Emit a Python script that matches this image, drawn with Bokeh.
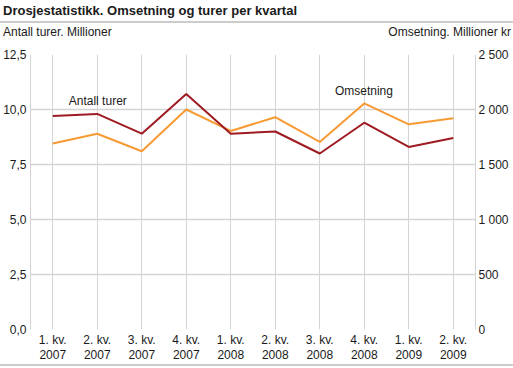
from bokeh.plotting import figure
from bokeh.models import (Range1d, LinearAxis, FixedTicker, CustomJSTickFormatter,
                          Label, Div)
from bokeh.layouts import column
from bokeh.embed import file_html
from bokeh.resources import INLINE

# ---- data ----
quarters = ["1. kv.\n2007", "2. kv.\n2007", "3. kv.\n2007", "4. kv.\n2007",
            "1. kv.\n2008", "2. kv.\n2008", "3. kv.\n2008", "4. kv.\n2008",
            "1. kv.\n2009", "2. kv.\n2009"]
antall_turer = [9.7, 9.8, 8.9, 10.7, 8.9, 9.0, 8.0, 9.4, 8.3, 8.7]          # millioner
omsetning = [1690, 1780, 1620, 2000, 1805, 1930, 1705, 2055, 1865, 1920]   # mill. kr
left_ticks = [0, 2.5, 5, 7.5, 10, 12.5]
right_ticks = [0, 500, 1000, 1500, 2000, 2500]

title_text = "Drosjestatistikk. Omsetning og turer per kvartal"
left_title = "Antall turer. Millioner"
right_title = "Omsetning. Millioner kr"

FONT = "Liberation Sans"
TXT = "#1a1a1a"
GRID = "#d4d4d4"
RED = "#9e1b22"
ORANGE = "#f89a33"
SEP = "#cccccc"

W = 513
HEAD_H, FIG_H, FOOT_H = 46, 318, 2
FL, FR = 30, 475            # frame left/right (page px)
FT, FB = 54, 331            # frame top/bottom (page px)
xs = list(range(len(quarters)))

header = Div(width=W, height=HEAD_H, margin=(0, 0, 0, 0), text=f"""
<div style="position:relative;width:{W}px;height:{HEAD_H}px;font-family:'{FONT}';color:{TXT};">
  <div style="position:absolute;left:3px;top:3px;font-size:13px;font-weight:bold;line-height:16px;white-space:nowrap;">{title_text}</div>
  <div style="position:absolute;left:0;top:21px;width:{W}px;height:2px;background:{SEP};"></div>
  <div style="position:absolute;left:3px;top:25px;font-size:12px;line-height:15px;white-space:nowrap;">{left_title}</div>
  <div style="position:absolute;right:2px;top:25px;font-size:12px;line-height:15px;white-space:nowrap;">{right_title}</div>
</div>""")

footer = Div(width=W, height=FOOT_H, margin=(0, 0, 0, 0), text="",
             styles={"background-color": SEP, "overflow": "hidden"})

p = figure(width=W, height=FIG_H, output_backend="svg", toolbar_location=None,
           x_range=Range1d(-0.5, len(quarters) - 0.5),
           y_range=Range1d(left_ticks[0], left_ticks[-1]),
           min_border_left=FL, min_border_right=W - FR,
           min_border_top=FT - HEAD_H, min_border_bottom=HEAD_H + FIG_H - FB,
           margin=(0, 0, 0, 0))
p.outline_line_color = None
p.background_fill_color = "white"
p.border_fill_color = "white"

p.extra_y_ranges = {"oms": Range1d(right_ticks[0], right_ticks[-1])}

# x axis
xa = p.xaxis[0]
xa.ticker = FixedTicker(ticks=xs)
xa.formatter = CustomJSTickFormatter(args=dict(labels=quarters),
                                     code="return labels[Math.round(tick)];")
xa.axis_line_color = None
xa.major_tick_line_color = None
xa.minor_tick_line_color = None
xa.major_tick_out = 0
xa.major_tick_in = 0
xa.major_label_standoff = 3
xa.major_label_text_font = FONT
xa.major_label_text_font_size = "12px"
xa.major_label_text_line_height = 1.1
xa.major_label_text_color = TXT

# left axis
ya = p.yaxis[0]
ya.ticker = FixedTicker(ticks=left_ticks)
ya.formatter = CustomJSTickFormatter(code="return tick.toFixed(1).replace('.', ',');")
ya.axis_line_color = GRID
ya.axis_line_width = 1
ya.major_tick_line_color = None
ya.minor_tick_line_color = None
ya.major_tick_out = 0
ya.major_tick_in = 0
ya.major_label_standoff = 4
ya.major_label_text_font = FONT
ya.major_label_text_font_size = "12px"
ya.major_label_text_color = TXT

# right axis
ra = LinearAxis(y_range_name="oms", ticker=FixedTicker(ticks=right_ticks))
ra.formatter = CustomJSTickFormatter(code="""
const t = Math.round(tick);
if (t >= 1000) { return Math.floor(t/1000) + ' ' + String(t % 1000).padStart(3, '0'); }
return String(t);
""")
ra.axis_line_color = GRID
ra.axis_line_width = 1
ra.major_tick_line_color = None
ra.minor_tick_line_color = None
ra.major_tick_out = 0
ra.major_tick_in = 0
ra.major_label_standoff = 3
ra.major_label_text_font = FONT
ra.major_label_text_font_size = "12px"
ra.major_label_text_color = TXT
p.add_layout(ra, "right")

# grids
p.xgrid.grid_line_color = GRID
p.xgrid.grid_line_width = 1
p.ygrid.grid_line_color = GRID
p.ygrid.grid_line_width = 1.3

# series
p.line(xs, omsetning, y_range_name="oms", line_color=ORANGE, line_width=2)
p.line(xs, antall_turer, line_color=RED, line_width=2)

# series labels
p.add_layout(Label(x=0.36, y=10.4, text="Antall turer", text_font=FONT,
                   text_font_size="12px", text_color=TXT, text_baseline="middle"))
p.add_layout(Label(x=6.34, y=10.85, text="Omsetning", text_font=FONT,
                   text_font_size="12px", text_color=TXT, text_baseline="middle"))

layout = column(header, p, footer, spacing=0, margin=(0, 0, 0, 0))

open("out.html", "w").write(file_html(layout, INLINE))
